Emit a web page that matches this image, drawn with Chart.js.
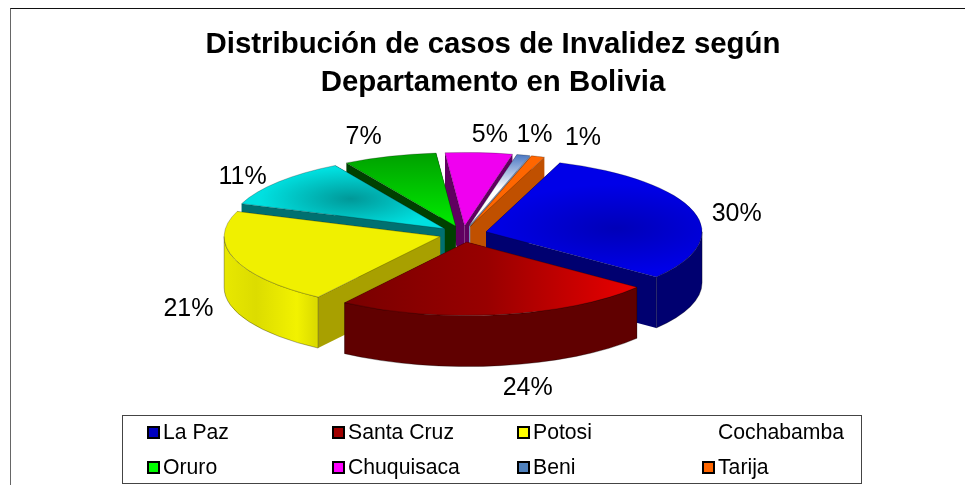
<!DOCTYPE html>
<html>
<head>
<meta charset="utf-8">
<script src="https://cdn.jsdelivr.net/npm/chart.js@4/dist/chart.umd.min.js"></script>
<style>
  html, body { margin: 0; padding: 0; background: #fff; overflow: hidden; }
  #wrap { position: relative; width: 965px; height: 485px; overflow: hidden; }
  #frame { position: absolute; left: 10px; top: 8px; width: 980px; height: 500px; border-top: 1px solid #111; border-left: 1px solid #666; }
  canvas { position: absolute; left: 0; top: 0; }
</style>
</head>
<body>
<div id="wrap">
  <div id="frame"></div>
  <canvas id="pie" width="965" height="485"></canvas>
</div>
<script>
const categories = ["La Paz", "Santa Cruz", "Potosi", "Cochabamba", "Oruro", "Chuquisaca", "Beni", "Tarija"];
const percents = [30, 24, 21, 11, 7, 5, 1, 1];
const titleLines = ["Distribución de casos de Invalidez según", "Departamento en Bolivia"];

const faceColors = ["#0000e0", "#c00000", "#f0f000", "#00e0e0", "#00d000", "#f000f0", "#a8bce0", "#ff6600"];
const wallColors = ["#000070", "#600000", "#a8a000", "#007070", "#004000", "#600060", "#7a90b8", "#c05000"];
const rimColors = ["#000070", "#600000", "#e8e800", "#007070", "#004000", "#600060", "#7a90b8", "#c05000"];
// null = no swatch, the original legend lost the Cochabamba key
const swatchColors = ["#0000c0", "#a00000", "#ffff00", null, "#00ff00", "#ff00ff", "#4f81bd", "#ff6600"];

// pie look
const CX = 463, CY = 234, RADIUS = 216, TILT = 0.34, DEPTH = 51, EXPLODE = 24;
// label shift from the rim point of each slice
const labelNudge = [[43, 3], [28, 73], [-46, 50], [-36, -5], [-26, -19], [11, -17], [11, -20], [45, -18]];

function faceFill(c) {
  const ctx = c.chart.ctx;
  const area = c.chart.chartArea;
  if (!area) return faceColors[c.dataIndex];
  const x = (area.left + area.right) / 2, y = (area.top + area.bottom) / 2;
  let g;
  switch (c.dataIndex) {
    case 0:
      g = ctx.createRadialGradient(x + 130, y - 10, 0, x + 130, y - 10, 130);
      g.addColorStop(0, "#0000b8");
      g.addColorStop(1, "#0000e8");
      return g;
    case 1:
      g = ctx.createLinearGradient(x - 125, 0, x + 165, 0);
      g.addColorStop(0, "#780000");
      g.addColorStop(0.5, "#980000");
      g.addColorStop(1, "#e80000");
      return g;
    case 3:
      g = ctx.createRadialGradient(x - 94, y - 88, 0, x - 94, y - 88, 90);
      g.addColorStop(0, "#009898");
      g.addColorStop(1, "#00e0e0");
      return g;
    case 4:
      g = ctx.createLinearGradient(0, y - RADIUS, 0, y);
      g.addColorStop(0, "#00a000");
      g.addColorStop(1, "#00ec00");
      return g;
    case 6:
      g = ctx.createLinearGradient(0, y - RADIUS, 0, y - 110);
      g.addColorStop(0, "#4070c0");
      g.addColorStop(1, "#ffffff");
      return g;
  }
  return faceColors[c.dataIndex];
}

// draws the walls by hand, the top face through the arc element itself
const tiltedPie = {
  id: "tiltedPie",
  beforeDatasetDraw(chart) {
    const ctx = chart.ctx;
    const arcs = chart.getDatasetMeta(0).data;
    const order = arcs.map((a, i) => i).sort((p, q) => midSin(arcs[p]) - midSin(arcs[q]));
    order.forEach(i => drawSlice(ctx, arcs[i], i));
    arcs.forEach((arc, i) => drawLabel(ctx, arc, i));
    return false;
  },
  afterDraw(chart) {
    drawLegend(chart.ctx);
  }
};

function midAngle(arc) {
  return (arc.startAngle + arc.endAngle) / 2;
}

function midSin(arc) {
  return Math.sin(midAngle(arc));
}

function rimFill(ctx, ax, r, i) {
  if (i !== 2) return rimColors[i];
  // the yellow wall has soft vertical bands
  const g = ctx.createLinearGradient(ax - r, 0, ax - 125, 0);
  g.addColorStop(0, "#e8e800");
  g.addColorStop(0.35, "#dcdc00");
  g.addColorStop(0.8, "#f2f200");
  g.addColorStop(1, "#dcdc00");
  return g;
}

function drawSlice(ctx, arc, i) {
  const mid = midAngle(arc);
  const ax = CX + Math.cos(mid) * EXPLODE;
  const ay = CY + Math.sin(mid) * EXPLODE * TILT;
  const r = arc.outerRadius;
  const rimX = a => ax + Math.cos(a) * r;
  const rimY = a => ay + Math.sin(a) * r * TILT;

  // flat cut faces
  ctx.fillStyle = wallColors[i];
  [arc.startAngle, arc.endAngle].forEach(a => {
    ctx.beginPath();
    ctx.moveTo(ax, ay);
    ctx.lineTo(rimX(a), rimY(a));
    ctx.lineTo(rimX(a), rimY(a) + DEPTH);
    ctx.lineTo(ax, ay + DEPTH);
    ctx.closePath();
    ctx.fill();
  });

  // round wall, front half only
  const from = Math.max(arc.startAngle, 0), to = Math.min(arc.endAngle, Math.PI);
  if (to > from) {
    ctx.beginPath();
    ctx.ellipse(ax, ay, r, r * TILT, 0, from, to);
    ctx.ellipse(ax, ay + DEPTH, r, r * TILT, 0, to, from, true);
    ctx.closePath();
    ctx.fillStyle = rimFill(ctx, ax, r, i);
    ctx.fill();
    ctx.strokeStyle = "rgba(0,0,0,0.45)";
    ctx.lineWidth = 0.7;
    ctx.stroke();
  }

  // top face
  ctx.save();
  ctx.translate(ax, ay);
  ctx.scale(1, TILT);
  ctx.translate(-arc.x, -arc.y);
  arc.draw(ctx);
  ctx.restore();
}

function drawLabel(ctx, arc, i) {
  const mid = midAngle(arc);
  const reach = arc.outerRadius + EXPLODE;
  ctx.font = "25px 'Liberation Sans'";
  ctx.fillStyle = "#000";
  ctx.textAlign = "center";
  ctx.textBaseline = "middle";
  ctx.fillText(percents[i] + "%",
    CX + Math.cos(mid) * reach + labelNudge[i][0],
    CY + Math.sin(mid) * reach * TILT + labelNudge[i][1]);
}

function drawLegend(ctx) {
  const colX = [147, 332, 517, 702], rowY = [433, 468];
  ctx.fillStyle = "#fff";
  ctx.fillRect(122, 415, 740, 69);
  ctx.strokeStyle = "#444";
  ctx.lineWidth = 1;
  ctx.strokeRect(122.5, 415.5, 739, 68);
  ctx.font = "21.2px 'Liberation Sans'";
  ctx.textAlign = "left";
  ctx.textBaseline = "middle";
  categories.forEach((name, i) => {
    const x = colX[i % 4], y = rowY[Math.floor(i / 4)];
    if (swatchColors[i]) {
      ctx.fillStyle = swatchColors[i];
      ctx.fillRect(x + 1, y - 6, 11, 11);
      ctx.strokeStyle = "#000";
      ctx.lineWidth = 2;
      ctx.strokeRect(x + 1, y - 6, 11, 11);
    }
    ctx.fillStyle = "#000";
    ctx.fillText(name, x + 16, y);
  });
}

new Chart(document.getElementById("pie").getContext("2d"), {
  type: "pie",
  data: {
    labels: categories,
    datasets: [{
      data: percents,
      backgroundColor: faceFill,
      borderColor: "rgba(0,0,0,0.5)",
      borderWidth: 0.7,
      radius: RADIUS
    }]
  },
  options: {
    responsive: false,
    animation: false,
    rotation: 20,
    layout: { padding: { left: 21, top: 8 } },
    plugins: {
      legend: { display: false },
      tooltip: { enabled: false },
      title: {
        display: true,
        fullSize: false,
        text: titleLines,
        color: "#000",
        font: { family: "'Liberation Sans'", size: 29.4, weight: "bold", lineHeight: 1.29 },
        padding: { top: 18, bottom: 0 }
      }
    }
  },
  plugins: [tiltedPie]
});
</script>
</body>
</html>
